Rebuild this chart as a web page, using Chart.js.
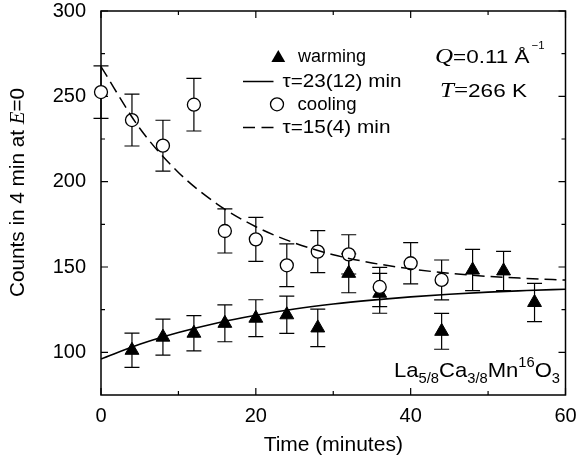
<!DOCTYPE html>
<html>
<head>
<meta charset="utf-8">
<script src="https://cdn.jsdelivr.net/npm/chart.js@4/dist/chart.umd.min.js"></script>
<style>
html,body{margin:0;padding:0;background:#fff;}
canvas{display:block;}
</style>
</head>
<body>
<canvas id="c" width="581" height="460"></canvas>
<script>
// ---------- data ----------
const warmingTimes  = [4, 8, 12, 16, 20, 24, 28, 32, 36, 44, 48, 52, 56];
const warmingCounts = [101.2, 108.9, 111.2, 117.0, 120.0, 122.0, 114.3, 146.3, 134.6, 112.3, 148.2, 147.7, 129.2];
const warmingErrors = [10.0, 10.5, 10.3, 10.8, 10.8, 10.9, 11.0, 11.4, 11.7, 10.5, 12.1, 11.5, 11.2];

const coolingTimes  = [0, 4, 8, 12, 16, 20, 24, 28, 32, 36, 40, 44];
const coolingCounts = [252.5, 236.1, 221.1, 245.1, 171.1, 166.2, 151.0, 159.0, 157.4, 138.3, 152.2, 142.4];
const coolingErrors = [15.4, 15.2, 14.9, 15.4, 12.9, 12.9, 12.5, 12.3, 11.5, 11.5, 12.1, 11.7];

// fitted curves
const fitTimes   = [0, 5, 10, 15, 20, 25, 30, 35, 40, 45, 50, 55, 60];
const warmingFit = [96.1, 104.7, 111.6, 117.2, 121.7, 125.4, 128.3, 130.6, 132.5, 134.0, 135.3, 136.2, 137.0];
const coolingFit = [267.4, 231.3, 205.4, 186.9, 173.6, 164.1, 157.2, 152.4, 148.9, 146.3, 144.5, 143.3, 142.3];

const xTickValues  = [0, 20, 40, 60];
const xMinorValues = [10, 30, 50];
const yTickValues  = [100, 150, 200, 250, 300];
const yMinorValues = [125, 175, 225, 275];

const warmingLabel = 'warming';
const warmingFitLabel = 'τ=23(12) min';
const coolingLabel = 'cooling';
const coolingFitLabel = 'τ=15(4) min';

// ---------- helpers ----------
const SANS = "'Liberation Sans', Arial, Helvetica, sans-serif";
const SERIF = "'Liberation Serif', 'Times New Roman', serif";
const toXY = (xs, ys) => xs.map((x, i) => ({x: x, y: ys[i]}));

function drawRun(ctx, segs, x, baseY, targetWidth) {
  let total = 0;
  segs.forEach(s => { ctx.font = s.font; s.w = ctx.measureText(s.t).width; total += s.w; });
  const sc = targetWidth ? targetWidth / total : 1;
  ctx.save();
  ctx.translate(x, baseY);
  ctx.scale(sc, 1);
  ctx.textBaseline = 'alphabetic';
  ctx.textAlign = 'left';
  let cx = 0;
  segs.forEach(s => { ctx.font = s.font; ctx.fillText(s.t, cx, s.dy || 0); cx += s.w; });
  ctx.restore();
}

function triangle(ctx, x, y, r) {
  ctx.beginPath();
  let rad = 0;
  ctx.moveTo(x + Math.sin(rad) * r, y - Math.cos(rad) * r);
  rad += 2 * Math.PI / 3;
  ctx.lineTo(x + Math.sin(rad) * r, y - Math.cos(rad) * r);
  rad += 2 * Math.PI / 3;
  ctx.lineTo(x + Math.sin(rad) * r, y - Math.cos(rad) * r);
  ctx.closePath();
}

const framePlugin = {
  id: 'frameAndErrors',
  beforeDatasetsDraw(chart) {
    const {ctx, chartArea: a, scales: {x, y}} = chart;
    ctx.save();
    ctx.strokeStyle = '#000';
    ctx.lineWidth = 1.5;
    ctx.strokeRect(a.left, a.top, a.right - a.left, a.bottom - a.top);
    ctx.lineWidth = 1.2;
    ctx.beginPath();
    const tx = (v, len) => {
      const p = x.getPixelForValue(v);
      ctx.moveTo(p, a.bottom); ctx.lineTo(p, a.bottom - len);
      ctx.moveTo(p, a.top); ctx.lineTo(p, a.top + len);
    };
    const ty = (v, len) => {
      const p = y.getPixelForValue(v);
      ctx.moveTo(a.left, p); ctx.lineTo(a.left + len, p);
      ctx.moveTo(a.right, p); ctx.lineTo(a.right - len, p);
    };
    xTickValues.forEach(v => tx(v, 7));
    xMinorValues.forEach(v => tx(v, 4));
    yTickValues.forEach(v => ty(v, 7));
    yMinorValues.forEach(v => ty(v, 4));
    ctx.stroke();

    // error bars
    ctx.lineWidth = 1.2;
    const bars = (ts, vs, es) => {
      ts.forEach((t, i) => {
        const px = x.getPixelForValue(t);
        const top = y.getPixelForValue(vs[i] + es[i]);
        const bot = y.getPixelForValue(vs[i] - es[i]);
        ctx.beginPath();
        ctx.moveTo(px, top); ctx.lineTo(px, bot);
        ctx.moveTo(px - 7.5, top); ctx.lineTo(px + 7.5, top);
        ctx.moveTo(px - 7.5, bot); ctx.lineTo(px + 7.5, bot);
        ctx.stroke();
      });
    };
    bars(warmingTimes, warmingCounts, warmingErrors);
    bars(coolingTimes, coolingCounts, coolingErrors);
    ctx.restore();
  }
};

const annotationPlugin = {
  id: 'annotations',
  afterDraw(chart) {
    const ctx = chart.ctx;
    ctx.save();
    ctx.fillStyle = '#000';
    ctx.strokeStyle = '#000';

    // legend
    triangle(ctx, 278.3, 58, 8);
    ctx.fill();
    drawRun(ctx, [{t: warmingLabel, font: '18px ' + SANS}], 298, 61.7, 68);

    ctx.lineWidth = 1.5;
    ctx.beginPath(); ctx.moveTo(243, 81.5); ctx.lineTo(273.5, 81.5); ctx.stroke();
    drawRun(ctx, [{t: warmingFitLabel, font: '18px ' + SANS}], 282.5, 86.7, 119);

    ctx.lineWidth = 1.3;
    ctx.beginPath(); ctx.arc(277, 104.3, 6.5, 0, Math.PI * 2);
    ctx.fillStyle = '#fff'; ctx.fill(); ctx.stroke();
    ctx.fillStyle = '#000';
    drawRun(ctx, [{t: coolingLabel, font: '18px ' + SANS}], 297.5, 110, 59);

    ctx.lineWidth = 1.5;
    ctx.beginPath();
    ctx.moveTo(243, 127.5); ctx.lineTo(255, 127.5);
    ctx.moveTo(261.5, 127.5); ctx.lineTo(273.5, 127.5);
    ctx.stroke();
    drawRun(ctx, [{t: coolingFitLabel, font: '18px ' + SANS}], 282.5, 133.3, 108);

    // Q = 0.11 Å^-1
    drawRun(ctx, [
      {t: 'Q', font: 'italic 20px ' + SERIF},
      {t: '=0.11 Å', font: '18px ' + SANS}
    ], 435, 63.3, 94.5);
    drawRun(ctx, [{t: '−1', font: '11px ' + SANS}], 531.5, 48.5, 13);

    // T = 266 K
    drawRun(ctx, [
      {t: 'T', font: 'italic 20px ' + SERIF},
      {t: '=', font: '20px ' + SERIF},
      {t: '266 K', font: '18px ' + SANS}
    ], 440, 97.3, 87);

    // formula
    const M = '21px ' + SANS, S = '14px ' + SANS;
    drawRun(ctx, [
      {t: 'La', font: M},
      {t: '5/8', font: S, dy: 6.6},
      {t: 'Ca', font: M},
      {t: '3/8', font: S, dy: 6.6},
      {t: 'Mn', font: M},
      {t: '16', font: S, dy: -9.4},
      {t: 'O', font: M},
      {t: '3', font: S, dy: 6.6}
    ], 394, 376.7, 166);

    // y-axis title
    ctx.save();
    ctx.translate(18.5, 192.5);
    ctx.rotate(-Math.PI / 2);
    const segs = [
      {t: 'Counts in 4 min at ', font: '20px ' + SANS},
      {t: 'E', font: 'italic 20px ' + SERIF},
      {t: '=0', font: '20px ' + SANS}
    ];
    let total = 0;
    segs.forEach(s => { ctx.font = s.font; s.w = ctx.measureText(s.t).width; total += s.w; });
    const sc = 209 / total;
    ctx.scale(sc, 1);
    ctx.textBaseline = 'middle';
    let cx = -total / 2;
    segs.forEach(s => { ctx.font = s.font; ctx.fillText(s.t, cx, 0); cx += s.w; });
    ctx.restore();

    ctx.restore();
  }
};

Chart.defaults.font.family = SANS;
Chart.defaults.color = '#000';

new Chart(document.getElementById('c'), {
  type: 'scatter',
  data: {
    datasets: [
      {
        label: warmingFitLabel,
        type: 'line',
        data: toXY(fitTimes, warmingFit),
        borderColor: '#000',
        borderWidth: 1.6,
        pointRadius: 0,
        fill: false,
        cubicInterpolationMode: 'monotone',
        order: 0
      },
      {
        label: coolingFitLabel,
        type: 'line',
        data: toXY(fitTimes, coolingFit),
        borderColor: '#000',
        borderWidth: 1.5,
        borderDash: [12, 6],
        pointRadius: 0,
        fill: false,
        cubicInterpolationMode: 'monotone',
        order: 1
      },
      {
        label: coolingLabel,
        data: toXY(coolingTimes, coolingCounts),
        pointStyle: 'circle',
        pointRadius: 6.5,
        pointBackgroundColor: '#fff',
        pointBorderColor: '#000',
        pointBorderWidth: 1.3,
        clip: false,
        order: 2
      },
      {
        label: warmingLabel,
        data: toXY(warmingTimes, warmingCounts),
        pointStyle: 'triangle',
        pointRadius: 8,
        pointBackgroundColor: '#000',
        pointBorderColor: '#000',
        pointBorderWidth: 1,
        clip: false,
        order: 3
      }
    ]
  },
  options: {
    responsive: false,
    animation: false,
    devicePixelRatio: 1,
    layout: {padding: {left: 0, right: 15.5, top: 11, bottom: 0}},
    plugins: {
      legend: {display: false},
      tooltip: {enabled: false},
      title: {display: false}
    },
    scales: {
      x: {
        type: 'linear',
        min: 0, max: 60,
        afterBuildTicks: s => { s.ticks = xTickValues.map(v => ({value: v})); },
        afterFit: s => { s.height = 65; s.paddingLeft = 0; s.paddingRight = 0; },
        grid: {display: false, drawTicks: false},
        border: {display: false},
        ticks: {padding: 11, color: '#000', font: {size: 20, lineHeight: 1}, maxRotation: 0},
        title: {display: true, text: 'Time (minutes)', color: '#000', font: {size: 21}, padding: {top: 4, bottom: 2}}
      },
      y: {
        type: 'linear',
        min: 75, max: 300,
        afterBuildTicks: s => { s.ticks = yTickValues.map(v => ({value: v})); },
        afterFit: s => { s.width = 101; s.paddingTop = 0; s.paddingBottom = 0; },
        grid: {display: false, drawTicks: false},
        border: {display: false},
        ticks: {padding: 15, color: '#000', font: {size: 20, lineHeight: 1}}
      }
    }
  },
  plugins: [framePlugin, annotationPlugin]
});
</script>
</body>
</html>
